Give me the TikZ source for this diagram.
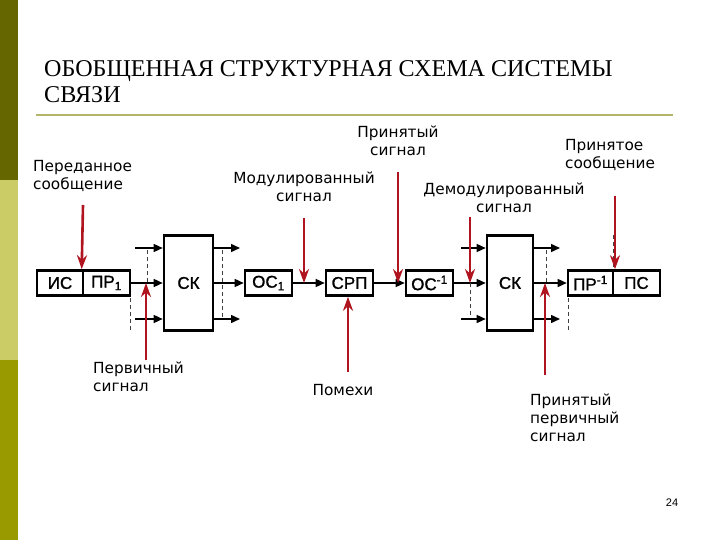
\documentclass[tikz,border=0pt]{standalone}
\usepackage{fontspec}
\setmainfont{Liberation Serif}
\setsansfont{DejaVu Sans}
\newfontfamily\blockfont[RawFeature={embolden=1.2}]{Liberation Sans}
\newfontfamily\numfont{Liberation Sans}
\usetikzlibrary{arrows.meta}
\definecolor{olivedark}{HTML}{666600}
\definecolor{olivelight}{HTML}{CCCC66}
\definecolor{olivemid}{HTML}{999900}
\definecolor{ruleolive}{HTML}{B4B46A}
\definecolor{sigred}{HTML}{B0141E}
\begin{document}
\begin{tikzpicture}[x=1pt,y=-1pt,
	blk/.style={draw,line width=2.6pt,inner sep=0pt,minimum height=25pt,font=\blockfont\fontsize{17}{17}\selectfont},
	lbl/.style={inner sep=0pt,font=\sffamily\fontsize{15.3}{18}\selectfont},
	line/.style={line width=1.5pt,-{Triangle[length=9pt,width=8pt]}},
	sig/.style={sigred,line width=2.6pt,-{Stealth[length=14pt,width=10pt]}},
	aux/.style={dash pattern=on 4pt off 3pt,line width=0.8pt,black!75}]
	\useasboundingbox (0,0) rectangle (720,540);
	\fill[olivedark] (0,0) rectangle (18,180);
	\fill[olivelight] (0,180) rectangle (18,360);
	\fill[olivemid] (0,360) rectangle (18,540);
	\node[anchor=north west,inner sep=0pt,align=left,font=\fontsize{24.1}{26}\selectfont] (title) at (44,60) {ОБОБЩЕННАЯ СТРУКТУРНАЯ СХЕМА СИСТЕМЫ\\СВЯЗИ};
	\draw[ruleolive,line width=2pt] (36,115) -- (673,115);
	\node[blk,minimum width=46pt] (is) at (60,283) {ИС};
	\node[blk,minimum width=47pt] (pr) at (106.5,283) {ПР\textsubscript{1}};
	\node[blk,minimum width=49pt,minimum height=95pt] (sk1) at (188.5,283) {СК};
	\node[blk,minimum width=47pt] (os1) at (268.5,283) {ОС\textsubscript{1}};
	\node[blk,minimum width=47pt] (srp) at (349.5,283) {СРП};
	\node[blk,minimum width=47pt] (osi) at (429.5,283) {ОС\textsuperscript{-1}};
	\node[blk,minimum width=46pt,minimum height=95pt] (sk2) at (510,283) {СК};
	\node[blk,minimum width=45pt] (pri) at (590.5,283) {ПР\textsuperscript{-1}};
	\node[blk,minimum width=47pt] (ps) at (636.5,283) {ПС};
	\draw[line] (pr) -- (sk1);
	\draw[line] (sk1) -- (os1);
	\draw[line] (os1) -- (srp);
	\draw[line] (srp) -- (osi);
	\draw[line] (osi) -- (sk2);
	\draw[line] (sk2) -- (pri);
	\coordinate (a1) at (135,248);
	\coordinate (a2) at (135,319);
	\coordinate (b1) at (240,248);
	\coordinate (b2) at (240,319);
	\coordinate (c1) at (461,248);
	\coordinate (c2) at (461,319);
	\coordinate (d1) at (560,248);
	\coordinate (d2) at (560,319);
	\draw[line] (a1) -- (a1 -| sk1.west);
	\draw[line] (a2) -- (a2 -| sk1.west);
	\draw[line] (b1 -| sk1.east) -- (b1);
	\draw[line] (b2 -| sk1.east) -- (b2);
	\draw[line] (c1) -- (c1 -| sk2.west);
	\draw[line] (c2) -- (c2 -| sk2.west);
	\draw[line] (d1 -| sk2.east) -- (d1);
	\draw[line] (d2 -| sk2.east) -- (d2);
	\draw[aux] (147,250) -- (147,283);
	\draw[aux] (130,298) -- (130,331);
	\draw[aux] (222,250) -- (222,318);
	\draw[aux] (470,283) -- (470,318);
	\draw[aux] (546,250) -- (546,283);
	\draw[aux] (568,298) -- (568,331);
	\draw[aux] (613,235) -- (613,270);
	\coordinate (s1) at (83,205);
	\coordinate (s2) at (146,360);
	\coordinate (s3) at (304,218);
	\coordinate (s4) at (348,372);
	\coordinate (s5) at (398,172);
	\coordinate (s6) at (470,217);
	\coordinate (s7) at (545,375);
	\coordinate (s8) at (615,196);
	\draw[sig] (s1) -- (pr.north west);
	\draw[sig] (s2) -- (s2 |- pr.east);
	\draw[sig] (s3) -- (s3 |- os1.east);
	\draw[sig] (s4) -- (s4 |- srp.south);
	\draw[sig] (s5) -- (s5 |- osi.west);
	\draw[sig] (s6) -- (s6 |- osi.east);
	\draw[sig] (s7) -- (s7 |- pri.west);
	\draw[sig] (s8) -- (s8 |- ps.north);
	\node[lbl,anchor=north west,align=left] (lper) at (33,160) {Переданное\\сообщение};
	\node[lbl,anchor=north,align=center] (lmod) at (304,172) {Модулированный\\сигнал};
	\node[lbl,anchor=north,align=center] (lprin) at (398,126) {Принятый\\сигнал};
	\node[lbl,anchor=north,align=center] (ldem) at (504,183) {Демодулированный\\сигнал};
	\node[lbl,anchor=north west,align=left] (lprs) at (565,139) {Принятое\\сообщение};
	\node[lbl,anchor=north west,align=left] (lperv) at (93,362) {Первичный\\сигнал};
	\node[lbl,anchor=north] (lpom) at (343,384) {Помехи};
	\node[lbl,anchor=north west,align=left] (lpps) at (530,394) {Принятый\\первичный\\сигнал};
	\node[anchor=base,inner sep=0pt,font=\numfont\fontsize{11}{11}\selectfont] (num) at (672,506) {24};
\end{tikzpicture}
\end{document}
